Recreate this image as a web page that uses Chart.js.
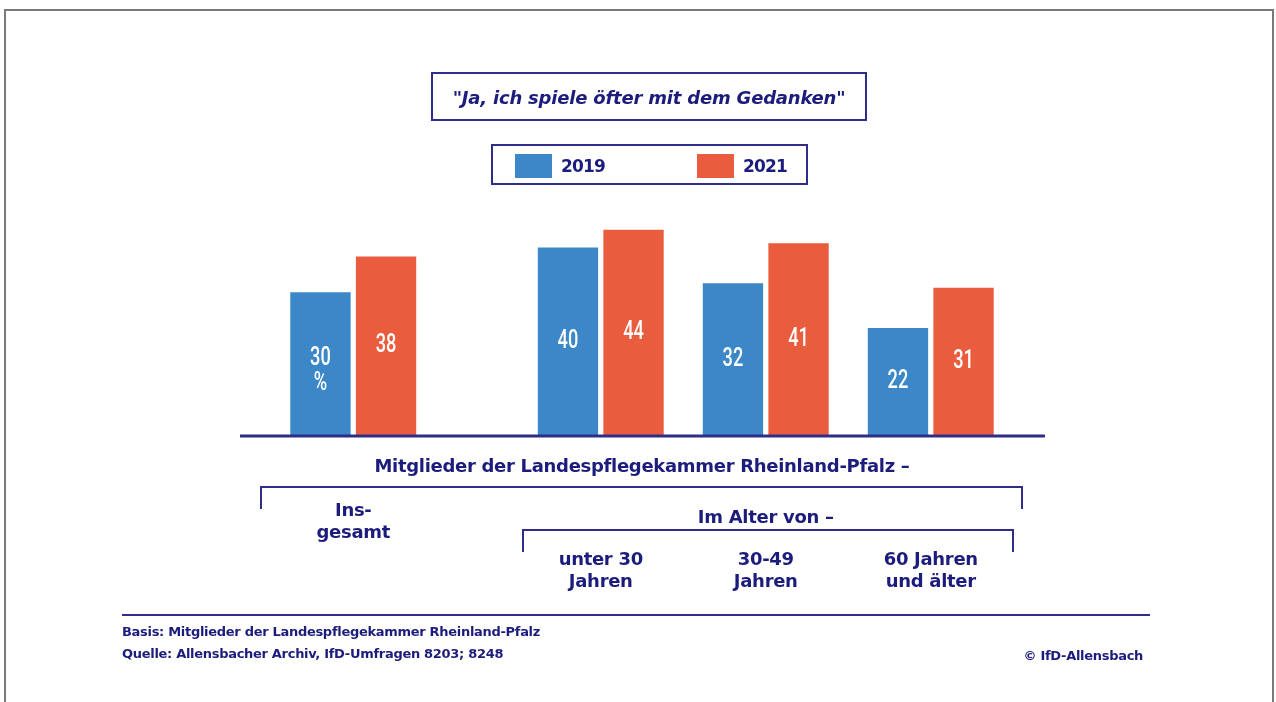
<!DOCTYPE html>
<html lang="de">
<head>
<meta charset="UTF-8">
<title>Ja, ich spiele öfter mit dem Gedanken</title>
<script src="https://cdn.jsdelivr.net/npm/chart.js"></script>
<style>
    :root {
        --navy: #1c1c7c;
        --blue: #3b87c7;
        --red: #ea5c3e;
    }
    html, body { margin: 0; padding: 0; background: #fff; }
    body {
        width: 1276px; height: 702px; position: relative; overflow: hidden;
        font-family: 'DejaVu Sans', 'Liberation Sans', sans-serif; font-weight: bold; color: var(--navy);
    }
    .frame {
        position: absolute; left: 4px; top: 9px; width: 1270px; height: 720px;
        border: 2px solid #7a7a7a; box-sizing: border-box;
    }
    #chart { position: absolute; left: 0; top: 0; }
    .box {
        position: absolute; border: 2px solid #2e2e88; box-sizing: border-box;
    }
    .title-box { left: 431px; top: 72px; width: 436px; height: 49px; }
    .title-box span {
        display: block; text-align: center; line-height: 47px;
        font-style: italic; font-size: 18px; letter-spacing: -0.2px;
    }
    .legend-box { left: 491px; top: 144px; width: 317px; height: 41px; }
    .swatch { position: absolute; top: 8px; width: 37px; height: 24px; }
    .legend-text { position: absolute; top: 9px; line-height: 22px; font-size: 17px; letter-spacing: -0.8px; }
    .lbl {
        position: absolute; transform: translateX(-50%); text-align: center; white-space: nowrap;
        font-size: 18px; line-height: 22px; letter-spacing: -0.3px;
    }
    .bracket {
        position: absolute; border: 2px solid #2e2e88; border-bottom: none; box-sizing: border-box;
    }
    .rule { position: absolute; left: 122px; top: 614px; width: 1028px; height: 2px; background: #2e2e88; }
    .foot { position: absolute; font-size: 13px; line-height: 16px; letter-spacing: -0.3px; }
</style>
</head>
<body>
<div class="frame"></div>
<canvas id="chart" width="1276" height="702"></canvas>

<div class="box title-box"><span>"Ja, ich spiele öfter mit dem Gedanken"</span></div>
<div class="box legend-box">
    <div class="swatch" style="left:22px;background:var(--blue)"></div>
    <div class="legend-text" style="left:68px" id="leg0"></div>
    <div class="swatch" style="left:204px;background:var(--red)"></div>
    <div class="legend-text" style="left:250px" id="leg1"></div>
</div>

<div id="labels"></div>

<div class="rule"></div>
<div class="foot" style="left:122px;top:624px">Basis: Mitglieder der Landespflegekammer Rheinland-Pfalz</div>
<div class="foot" style="left:122px;top:646px">Quelle: Allensbacher Archiv, IfD-Umfragen 8203; 8248</div>
<div class="foot" style="right:133px;top:648px">© IfD-Allensbach</div>

<script>
// Kategorien (leere Einträge sind Abstandhalter zwischen den Gruppen)
const categories = ['Ins-\ngesamt', '', '', 'unter 30\nJahren', '', '30-49\nJahren', '', '60 Jahren\nund älter'];
const seriesNames = ['2019', '2021'];
const values2019 = [30, null, null, 40, null, 32, null, 22];
const values2021 = [38, null, null, 44, null, 41, null, 31];
const groupTitle = 'Mitglieder der Landespflegekammer Rheinland-Pfalz –';
const ageTitle = 'Im Alter von –';

const Y_MIN = -2;
const Y_MAX = 50;
const BLUE = '#3b87c7';
const RED = '#ea5c3e';
const NAVY = '#2e2e88';

document.getElementById('leg0').textContent = seriesNames[0];
document.getElementById('leg1').textContent = seriesNames[1];

// Werte in den Balken + Grundlinie
const valueLabels = {
    id: 'valueLabels',
    afterDatasetsDraw(chart) {
        const ctx = chart.ctx;
        const sx = 0.7;
        ctx.save();
        ctx.fillStyle = '#ffffff';
        ctx.font = '500 26px Roboto, "Liberation Sans", sans-serif';
        ctx.textAlign = 'center';
        ctx.textBaseline = 'middle';
        chart.data.datasets.forEach((ds, di) => {
            chart.getDatasetMeta(di).data.forEach((bar, i) => {
                const v = ds.data[i];
                if (v === null) return;
                const cy = (bar.y + bar.base) / 2;
                ctx.save();
                ctx.translate(bar.x, 0);
                ctx.scale(sx, 1);
                if (di === 0 && i === 0) {
                    ctx.fillText(String(v), 0, cy - 5);
                    ctx.fillText('%', 0, cy + 20);
                } else {
                    ctx.fillText(String(v), 0, cy);
                }
                ctx.restore();
            });
        });
        const y0 = chart.scales.y.getPixelForValue(Y_MIN) + 1;
        ctx.strokeStyle = NAVY;
        ctx.lineWidth = 3;
        ctx.beginPath();
        ctx.moveTo(chart.chartArea.left - 72, y0);
        ctx.lineTo(chart.chartArea.right + 73, y0);
        ctx.stroke();
        ctx.restore();
    }
};

const chart = new Chart(document.getElementById('chart'), {
    type: 'bar',
    data: {
        labels: categories,
        datasets: [
            { label: seriesNames[0], data: values2019, backgroundColor: BLUE, base: Y_MIN, clip: false },
            { label: seriesNames[1], data: values2021, backgroundColor: RED, base: Y_MIN, clip: false }
        ]
    },
    options: {
        responsive: false,
        devicePixelRatio: 1,
        animation: false,
        events: [],
        categoryPercentage: 1.59,
        barPercentage: 0.92,
        layout: { padding: { left: 312, right: 304, top: 203, bottom: 267 } },
        plugins: { legend: { display: false }, tooltip: { enabled: false } },
        scales: {
            x: { display: false },
            y: { display: false, min: Y_MIN, max: Y_MAX }
        }
    },
    plugins: [valueLabels]
});

// Beschriftungen unter der Grundlinie, an der x-Achse ausgerichtet
const xs = chart.scales.x;
const idx = categories.map((c, i) => i).filter(i => categories[i] !== '');
const px = idx.map(i => xs.getPixelForValue(i));
const holder = document.getElementById('labels');

function addLabel(text, x, top) {
    const d = document.createElement('div');
    d.className = 'lbl';
    d.style.left = x + 'px';
    d.style.top = top + 'px';
    d.innerHTML = text.split('\n').join('<br>');
    holder.appendChild(d);
}
function addBracket(x1, x2, top, h) {
    const d = document.createElement('div');
    d.className = 'bracket';
    d.style.left = x1 + 'px';
    d.style.top = top + 'px';
    d.style.width = (x2 - x1) + 'px';
    d.style.height = h + 'px';
    holder.appendChild(d);
}

addLabel(groupTitle, (px[0] + px[px.length - 1]) / 2, 455);
addBracket(px[0] - 93, px[px.length - 1] + 92, 486, 23);
addLabel(categories[idx[0]], px[0], 499);
addLabel(ageTitle, (px[1] + px[px.length - 1]) / 2, 506);
addBracket(px[1] - 79, px[px.length - 1] + 83, 529, 23);
for (let k = 1; k < idx.length; k++) {
    addLabel(categories[idx[k]], px[k], 548);
}
</script>
</body>
</html>
